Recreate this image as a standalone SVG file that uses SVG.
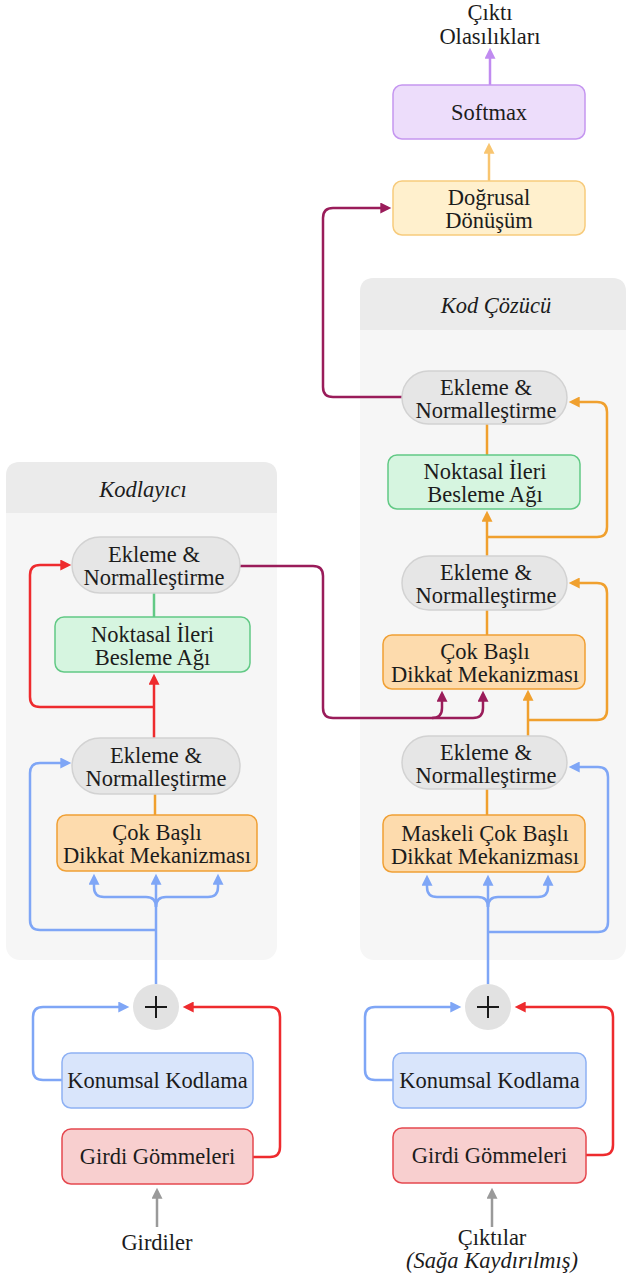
<svg xmlns="http://www.w3.org/2000/svg" width="627" height="1277" viewBox="0 0 627 1277">
<defs>
<style>
.t{font-family:"Liberation Serif","Times New Roman",serif;font-size:22.5px;fill:#1c1c1c;text-anchor:middle}
.ti{font-style:italic}
.c{fill:none;stroke-width:2.5;stroke-linecap:butt;stroke-linejoin:round}
.norm{fill:#E6E6E6;stroke:#D2D2D2;stroke-width:1.5}
.ffn{fill:#D6F5E0;stroke:#62C985;stroke-width:1.5}
.mha{fill:#FDDBAD;stroke:#F0A035;stroke-width:1.5}
.pos{fill:#D9E5FB;stroke:#8EB1F4;stroke-width:1.5}
.emb{fill:#F8CFCF;stroke:#E5484F;stroke-width:1.5}
.lin{fill:#FFF0CD;stroke:#F7CB7C;stroke-width:1.5}
.sm{fill:#EDDDFB;stroke:#C596F0;stroke-width:1.5}
.cbody{fill:#F6F6F6}
.chead{fill:#EBEBEB}
</style>
<marker id="aMag" viewBox="0 0 10 10" refX="7" refY="5" markerWidth="12" markerHeight="11" markerUnits="userSpaceOnUse" orient="auto"><path d="M0,0 L10,5 L0,10 z" fill="#9A1C5A"/></marker>
<marker id="aOr" viewBox="0 0 10 10" refX="7" refY="5" markerWidth="12" markerHeight="11" markerUnits="userSpaceOnUse" orient="auto"><path d="M0,0 L10,5 L0,10 z" fill="#F0A02E"/></marker>
<marker id="aBl" viewBox="0 0 10 10" refX="7" refY="5" markerWidth="12" markerHeight="11" markerUnits="userSpaceOnUse" orient="auto"><path d="M0,0 L10,5 L0,10 z" fill="#7FA6F6"/></marker>
<marker id="aRd" viewBox="0 0 10 10" refX="7" refY="5" markerWidth="12" markerHeight="11" markerUnits="userSpaceOnUse" orient="auto"><path d="M0,0 L10,5 L0,10 z" fill="#EE2B2E"/></marker>
<marker id="aGy" viewBox="0 0 10 10" refX="7" refY="5" markerWidth="12" markerHeight="11" markerUnits="userSpaceOnUse" orient="auto"><path d="M0,0 L10,5 L0,10 z" fill="#9A9A9A"/></marker>
<marker id="aLo" viewBox="0 0 10 10" refX="7" refY="5" markerWidth="12" markerHeight="11" markerUnits="userSpaceOnUse" orient="auto"><path d="M0,0 L10,5 L0,10 z" fill="#F8C570"/></marker>
<marker id="aLp" viewBox="0 0 10 10" refX="7" refY="5" markerWidth="12" markerHeight="11" markerUnits="userSpaceOnUse" orient="auto"><path d="M0,0 L10,5 L0,10 z" fill="#C08BF0"/></marker>
</defs>
<rect width="627" height="1277" fill="#FFFFFF"/>

<g id="encoder-container">
<rect class="cbody" x="6" y="462" width="271" height="498" rx="14"/>
<path class="chead" d="M6,513 V476 Q6,462 20,462 H263 Q277,462 277,476 V513 Z"/>
<text class="t ti" x="143" y="497">Kodlayıcı</text>
</g>
<g id="decoder-container">
<rect class="cbody" x="360" y="278" width="266" height="682" rx="14"/>
<path class="chead" d="M360,330 V292 Q360,278 374,278 H612 Q626,278 626,292 V330 Z"/>
<text class="t ti" x="496" y="313">Kod Çözücü</text>
</g>

<g id="connectors">
<path class="c" stroke="#C08BF0" d="M490,85 V51" marker-end="url(#aLp)"/>
<path class="c" stroke="#F8C570" d="M489,181 V146" marker-end="url(#aLo)"/>
<path class="c" stroke="#9A1C5A" d="M402,397 H333 Q323,397 323,387 V218 Q323,208 333,208 H388" marker-end="url(#aMag)"/>
<path class="c" stroke="#9A1C5A" d="M240,566 H313 Q323,566 323,576 V708 Q323,718 333,718 H432 Q442,718 442,708 V694" marker-end="url(#aMag)"/>
<path class="c" stroke="#9A1C5A" d="M432,718 H473 Q483,718 483,708 V694" marker-end="url(#aMag)"/>
<path class="c" stroke="#F0A02E" d="M487,424 V455"/>
<path class="c" stroke="#F0A02E" d="M487,556 V514" marker-end="url(#aOr)"/>
<path class="c" stroke="#F0A02E" d="M487,537 H597 Q607,537 607,527 V412 Q607,402 597,402 H572" marker-end="url(#aOr)"/>
<path class="c" stroke="#F0A02E" d="M487,610 V635"/>
<path class="c" stroke="#F0A02E" d="M528,736 V693" marker-end="url(#aOr)"/>
<path class="c" stroke="#F0A02E" d="M528,720 H597 Q607,720 607,710 V593 Q607,583 597,583 H572" marker-end="url(#aOr)"/>
<path class="c" stroke="#F0A02E" d="M487,789 V815"/>
<path class="c" stroke="#7FA6F6" d="M488,984 V878" marker-end="url(#aBl)"/>
<path class="c" stroke="#7FA6F6" d="M488,907 Q488,897 478,897 H437 Q427,897 427,887 V878" marker-end="url(#aBl)"/>
<path class="c" stroke="#7FA6F6" d="M488,907 Q488,897 498,897 H538 Q548,897 548,887 V878" marker-end="url(#aBl)"/>
<path class="c" stroke="#7FA6F6" d="M488,932 H598 Q608,932 608,922 V777 Q608,767 598,767 H572" marker-end="url(#aBl)"/>
<path class="c" stroke="#7FA6F6" d="M393,1080 H375 Q365,1080 365,1070 V1017 Q365,1007 375,1007 H458" marker-end="url(#aBl)"/>
<path class="c" stroke="#EE2B2E" d="M586,1155 H603 Q613,1155 613,1145 V1017 Q613,1007 603,1007 H518" marker-end="url(#aRd)"/>
<path class="c" stroke="#9A9A9A" d="M492,1227 V1191" marker-end="url(#aGy)"/>
<path class="c" stroke="#62C985" d="M154,593 V617"/>
<path class="c" stroke="#EE2B2E" d="M154,738 V677" marker-end="url(#aRd)"/>
<path class="c" stroke="#EE2B2E" d="M154,707 H40 Q30,707 30,697 V575 Q30,565 40,565 H68" marker-end="url(#aRd)"/>
<path class="c" stroke="#F0A02E" d="M155,794 V815"/>
<path class="c" stroke="#7FA6F6" d="M156,984 V877" marker-end="url(#aBl)"/>
<path class="c" stroke="#7FA6F6" d="M156,907 Q156,897 146,897 H104 Q94,897 94,887 V877" marker-end="url(#aBl)"/>
<path class="c" stroke="#7FA6F6" d="M156,907 Q156,897 166,897 H208 Q218,897 218,887 V877" marker-end="url(#aBl)"/>
<path class="c" stroke="#7FA6F6" d="M156,930 H40 Q30,930 30,920 V773 Q30,763 40,763 H68" marker-end="url(#aBl)"/>
<path class="c" stroke="#7FA6F6" d="M62,1080 H43 Q33,1080 33,1070 V1017 Q33,1007 43,1007 H126" marker-end="url(#aBl)"/>
<path class="c" stroke="#EE2B2E" d="M253,1157 H270 Q280,1157 280,1147 V1017 Q280,1007 270,1007 H186" marker-end="url(#aRd)"/>
<path class="c" stroke="#9A9A9A" d="M157,1227 V1191" marker-end="url(#aGy)"/>
</g>

<g id="output-label">
<text class="t"><tspan x="490" y="19.5">Çıktı</tspan><tspan x="490" y="43.5">Olasılıkları</tspan></text>
</g>
<g id="softmax">
<rect class="sm" x="393" y="85" width="192" height="54" rx="9"/>
<text class="t" x="489" y="119.5">Softmax</text>
</g>
<g id="linear">
<rect class="lin" x="393" y="181" width="192" height="54" rx="9"/>
<text class="t"><tspan x="489" y="205">Doğrusal</tspan><tspan x="489" y="228">Dönüşüm</tspan></text>
</g>

<g id="dec-addnorm-3">
<rect class="norm" x="402" y="371" width="165" height="53" rx="26.5"/>
<text class="t"><tspan x="486" y="394.5">Ekleme &amp;</tspan><tspan x="486" y="417.5">Normalleştirme</tspan></text>
</g>
<g id="dec-ffn">
<rect class="ffn" x="388" y="455" width="192" height="54" rx="9"/>
<text class="t"><tspan x="485" y="479">Noktasal İleri</tspan><tspan x="485" y="502">Besleme Ağı</tspan></text>
</g>
<g id="dec-addnorm-2">
<rect class="norm" x="402" y="556" width="165" height="54" rx="27"/>
<text class="t"><tspan x="486" y="580">Ekleme &amp;</tspan><tspan x="486" y="603">Normalleştirme</tspan></text>
</g>
<g id="dec-mha">
<rect class="mha" x="383" y="635" width="202" height="54" rx="9"/>
<text class="t"><tspan x="485" y="659">Çok Başlı</tspan><tspan x="485" y="682">Dikkat Mekanizması</tspan></text>
</g>
<g id="dec-addnorm-1">
<rect class="norm" x="402" y="736" width="165" height="53" rx="26.5"/>
<text class="t"><tspan x="486" y="759.5">Ekleme &amp;</tspan><tspan x="486" y="782.5">Normalleştirme</tspan></text>
</g>
<g id="dec-masked-mha">
<rect class="mha" x="383" y="815" width="202" height="57" rx="9"/>
<text class="t"><tspan x="485" y="840.5">Maskeli Çok Başlı</tspan><tspan x="485" y="863.5">Dikkat Mekanizması</tspan></text>
</g>
<g id="dec-plus">
<circle cx="488" cy="1007" r="23" fill="#E2E2E2"/>
<path d="M477,1007 H499 M488,996 V1018" stroke="#1a1a1a" stroke-width="2" fill="none"/>
</g>
<g id="dec-pos">
<rect class="pos" x="393" y="1053" width="193" height="55" rx="9"/>
<text class="t" x="489.5" y="1088">Konumsal Kodlama</text>
</g>
<g id="dec-emb">
<rect class="emb" x="393" y="1128" width="193" height="55" rx="9"/>
<text class="t" x="489.5" y="1163">Girdi Gömmeleri</text>
</g>
<g id="dec-input-label">
<text class="t"><tspan x="492" y="1245">Çıktılar</tspan><tspan x="492" y="1268" class="ti">(Sağa Kaydırılmış)</tspan></text>
</g>

<g id="enc-addnorm-2">
<rect class="norm" x="72" y="537" width="168" height="56" rx="28"/>
<text class="t"><tspan x="154" y="562">Ekleme &amp;</tspan><tspan x="154" y="585">Normalleştirme</tspan></text>
</g>
<g id="enc-ffn">
<rect class="ffn" x="55" y="617" width="195" height="55" rx="9"/>
<text class="t"><tspan x="152.5" y="641.5">Noktasal İleri</tspan><tspan x="152.5" y="664.5">Besleme Ağı</tspan></text>
</g>
<g id="enc-addnorm-1">
<rect class="norm" x="72" y="738" width="168" height="56" rx="28"/>
<text class="t"><tspan x="156" y="763">Ekleme &amp;</tspan><tspan x="156" y="786">Normalleştirme</tspan></text>
</g>
<g id="enc-mha">
<rect class="mha" x="57" y="815" width="200" height="56" rx="9"/>
<text class="t"><tspan x="157" y="840">Çok Başlı</tspan><tspan x="157" y="863">Dikkat Mekanizması</tspan></text>
</g>
<g id="enc-plus">
<circle cx="156" cy="1007" r="23" fill="#E2E2E2"/>
<path d="M145,1007 H167 M156,996 V1018" stroke="#1a1a1a" stroke-width="2" fill="none"/>
</g>
<g id="enc-pos">
<rect class="pos" x="62" y="1053" width="191" height="55" rx="9"/>
<text class="t" x="157.5" y="1088">Konumsal Kodlama</text>
</g>
<g id="enc-emb">
<rect class="emb" x="62" y="1129" width="191" height="55" rx="9"/>
<text class="t" x="157.5" y="1164">Girdi Gömmeleri</text>
</g>
<g id="enc-input-label">
<text class="t" x="157" y="1250">Girdiler</text>
</g>
</svg>
